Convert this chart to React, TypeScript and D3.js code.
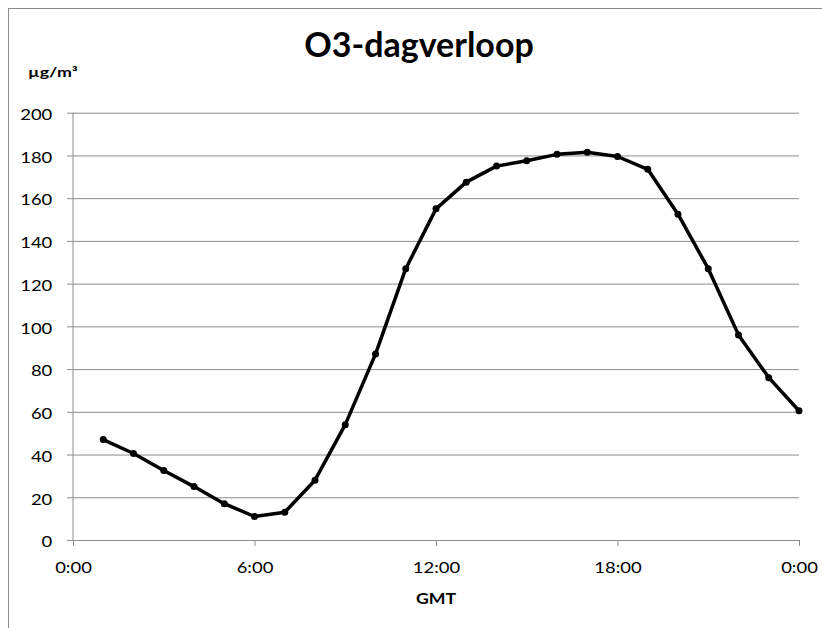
import React, { useEffect, useRef } from "react";
import * as d3 from "d3";

const hours = [1, 2, 3, 4, 5, 6, 7, 8, 9, 10, 11, 12, 13, 14, 15, 16, 17, 18, 19, 20, 21, 22, 23, 24];
const o3 = [47, 40.5, 32.5, 25, 17, 11, 13, 28, 54, 87, 127, 155, 167.5, 175, 177.5, 180.5, 181.5, 179.5, 173.5, 152.5, 127, 96, 76, 60.5];
const xTicks = [0, 6, 12, 18, 24];
const xTickLabels = ["0:00", "6:00", "12:00", "18:00", "0:00"];
const yTicks = [0, 20, 40, 60, 80, 100, 120, 140, 160, 180, 200];

const width = 822;
const height = 628;
const margin = { top: 112.7, left: 73, bottom: 88, right: 23 };
const iwidth = width - margin.left - margin.right;
const iheight = height - margin.top - margin.bottom;
const font = "Lato, 'Open Sans', sans-serif";
const gray = "#8c8c8c";
const stretch = 1.23; // reference text is wider than Lato

export default function App() {
  const ref = useRef<SVGSVGElement>(null);

  useEffect(() => {
    const svg = d3.select(ref.current);
    svg.selectAll("*").remove();

    // chart border (runs off the right and bottom)
    svg
      .append("rect")
      .attr("x", 8.5)
      .attr("y", 8.5)
      .attr("width", width + 20)
      .attr("height", height + 20)
      .attr("fill", "white")
      .attr("stroke", gray)
      .attr("stroke-width", 1);

    const g = svg.append("g").attr("transform", `translate(${margin.left},${margin.top})`);

    const x = d3.scaleLinear().domain([0, 24]).range([0, iwidth]);
    const y = d3.scaleLinear().domain([0, 200]).range([iheight, 0]);

    const yAxis = g
      .append("g")
      .call(d3.axisLeft(y).tickValues(yTicks).tickSize(-iwidth).tickSizeOuter(0));
    yAxis.select(".domain").remove();
    yAxis.selectAll(".tick line").attr("stroke", gray).attr("x1", -6);
    yAxis
      .selectAll(".tick text")
      .attr("fill", "#000")
      .attr("x", -20.7 / stretch)
      .attr("dy", 6.8)
      .attr("transform", `scale(${stretch},1)`)
      .style("font-family", font)
      .style("font-size", "15px");

    const xAxis = g
      .append("g")
      .attr("transform", `translate(0,${iheight})`)
      .call(
        d3
          .axisBottom(x)
          .tickValues(xTicks)
          .tickFormat((d, i) => xTickLabels[i])
          .tickSize(6)
          .tickSizeOuter(0)
      );
    xAxis.select(".domain").attr("stroke", gray);
    xAxis.selectAll(".tick line").attr("stroke", gray);
    xAxis
      .selectAll(".tick text")
      .attr("fill", "#000")
      .attr("y", 33.3)
      .attr("dy", 0)
      .attr("transform", `scale(${stretch},1)`)
      .style("font-family", font)
      .style("font-size", "15px");

    g.append("line")
      .attr("x1", 0)
      .attr("x2", 0)
      .attr("y1", 0)
      .attr("y2", iheight)
      .attr("stroke", gray);

    const pts = hours.map((h, i) => ({ h, v: o3[i] }));

    g.append("path")
      .datum(pts)
      .attr("fill", "none")
      .attr("stroke", "#000")
      .attr("stroke-width", 3.5)
      .attr("stroke-linejoin", "round")
      .attr(
        "d",
        d3
          .line<{ h: number; v: number }>()
          .x((d) => x(d.h))
          .y((d) => y(d.v))
      );

    g.selectAll("circle.pt")
      .data(pts)
      .enter()
      .append("circle")
      .attr("class", "pt")
      .attr("cx", (d) => x(d.h))
      .attr("cy", (d) => y(d.v))
      .attr("r", 3.5)
      .attr("fill", "#000");

    svg
      .append("text")
      .attr("transform", "translate(419,57)")
      .attr("text-anchor", "middle")
      .style("font-family", font)
      .style("font-weight", "bold")
      .style("font-size", "34px")
      .text("O3-dagverloop");

    svg
      .append("text")
      .attr("transform", `translate(28,77) scale(1.27,1)`)
      .style("font-family", font)
      .style("font-weight", "bold")
      .style("font-size", "14px")
      .text("µg/m³");

    svg
      .append("text")
      .attr("transform", `translate(${margin.left + x(12)},604.3) scale(1.18,1)`)
      .attr("text-anchor", "middle")
      .style("font-family", font)
      .style("font-weight", "bold")
      .style("font-size", "15px")
      .text("GMT");
  }, []);

  return (
    <svg
      ref={ref}
      width={width}
      height={height}
      style={{ position: "absolute", left: 0, top: 0 }}
    />
  );
}
